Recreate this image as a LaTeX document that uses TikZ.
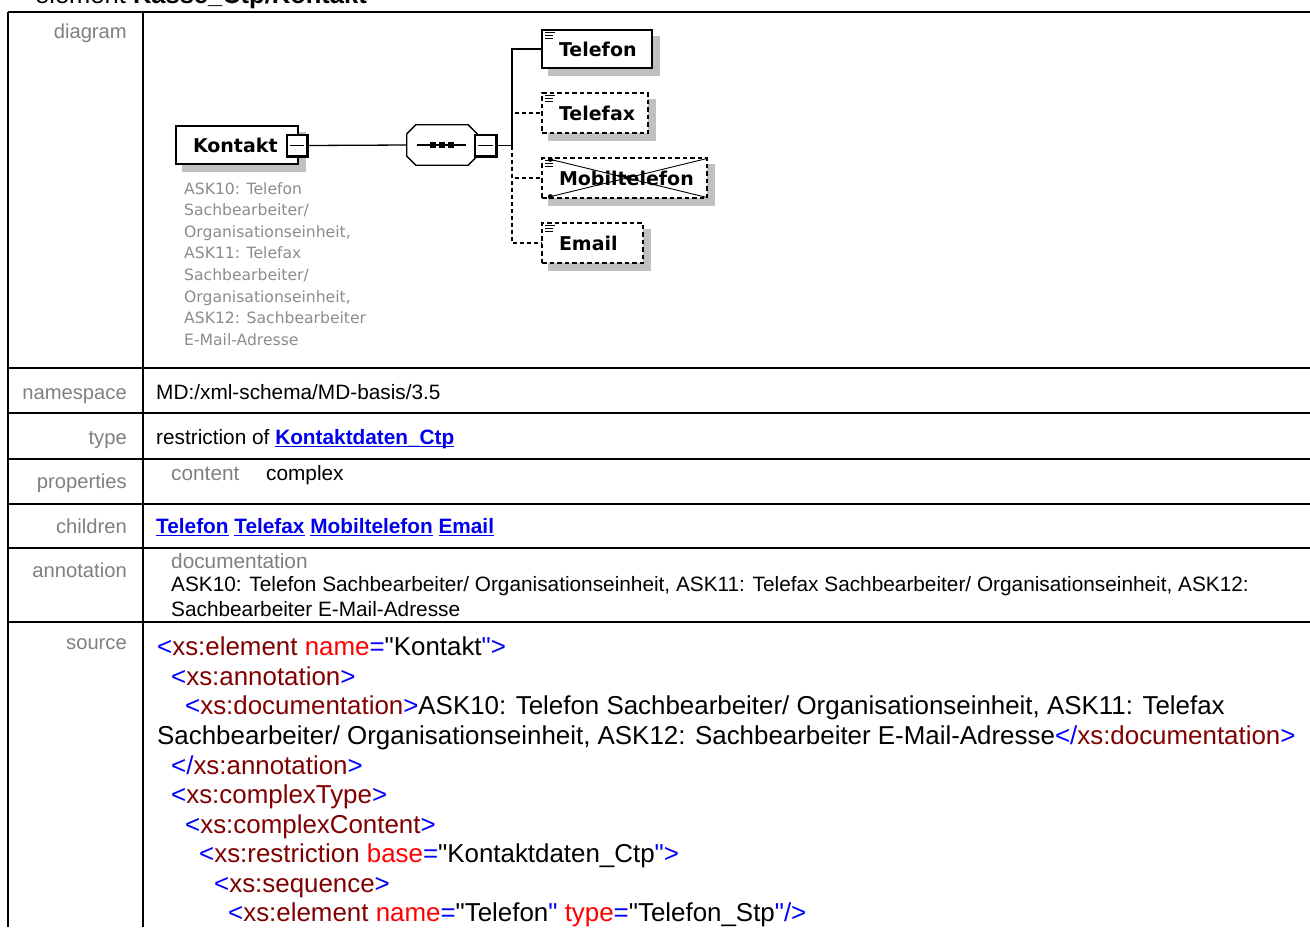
\documentclass[tikz,border=0pt]{standalone}
\usepackage{fontspec}
\setmainfont{Liberation Sans}
\newfontfamily\dejavu{DejaVu Sans}
\usetikzlibrary{backgrounds,calc}
\definecolor{xblue}{RGB}{0,0,255}
\definecolor{xmaroon}{RGB}{128,0,0}
\definecolor{xred}{RGB}{255,0,0}
\definecolor{lblgray}{RGB}{128,128,128}
\definecolor{anngray}{RGB}{140,140,140}
\definecolor{shadowgray}{RGB}{192,192,192}
\definecolor{linkblue}{RGB}{0,0,238}
\newcommand\Bl[1]{\textcolor{xblue}{#1}}
\newcommand\Mr[1]{\textcolor{xmaroon}{#1}}
\newcommand\Rd[1]{\textcolor{xred}{#1}}
\newcommand\Q{\textquotedbl}
\newcommand\ulink[1]{\setbox0=\hbox{#1}\rlap{\rule[-3pt]{\wd0}{1.4pt}}\box0\relax}
\newcommand\lbox[2]{\hbox to #1pt{\hskip17pt #2\hss}}
\begin{document}
\begin{tikzpicture}[x=1pt,y=-1pt,
  tline/.style={line width=2pt},
  lbl/.style={anchor=base east,inner sep=0pt,text=lblgray,font=\fontsize{20.2}{24}\selectfont},
  val/.style={anchor=base west,inner sep=0pt,font=\fontsize{20.8}{24}\selectfont},
  src/.style={anchor=base west,inner sep=0pt,font=\fontsize{25.9}{30}\selectfont},
  elbox/.style={draw=black,line width=1.3pt,fill=white,inner sep=0pt,font=\dejavu\bfseries\fontsize{19}{22}\selectfont},
  optbox/.style={elbox,dash pattern=on 4.5pt off 3pt},
  minusbox/.style={draw=black,line width=1.2pt,fill=white,minimum width=20pt,minimum height=21pt,inner sep=0pt},
  conn/.style={line width=1.3pt},
  dconn/.style={line width=1.3pt,dash pattern=on 4pt off 3pt},
  icon/.style={line width=1pt}
]
\useasboundingbox (0,0) rectangle (1310,927);

% title (cut off at top, as in the reference)
\node[anchor=base west,inner sep=0pt,font=\fontsize{25.5}{30}\selectfont] (title) at (35,3) {element \textbf{Kasse\_Ctp/Kontakt}};

% table grid
\draw[tline] (8,12) -- (1310,12);
\draw[tline] (8,12) -- (8,927);
\draw[tline] (143,12) -- (143,927);
\draw[tline] (8,368) -- (1310,368);
\draw[tline] (8,413) -- (1310,413);
\draw[line width=1.3pt] (8,459) -- (1310,459);
\draw[tline] (8,504) -- (1310,504);
\draw[tline] (8,548) -- (1310,548);
\draw[tline] (8,622) -- (1310,622);

% row labels
\node[lbl] (ldiag) at (127,38) {diagram};
\node[lbl] (lns) at (127,399) {namespace};
\node[lbl] (ltype) at (127,444) {type};
\node[lbl] (lprop) at (127,488) {properties};
\node[lbl] (lchild) at (127,533) {children};
\node[lbl] (lann) at (127,577) {annotation};
\node[lbl] (lsrc) at (127,649) {source};

% row values
\node[val] (ns) at (156,399) {MD:/xml-schema/MD-basis/3.5};
\node[val] (ty) at (156,444) {restriction of \textcolor{linkblue}{\bfseries\ulink{Kontaktdaten\_Ctp}}};
\node[val,text=lblgray] (pc) at (171,480) {content};
\node[val] (pv) at (266,480) {complex};
\node[val,text=linkblue,font=\bfseries\fontsize{20.8}{24}\selectfont] (ch) at (156,533) {\ulink{Telefon} \ulink{Telefax} \ulink{Mobiltelefon} \ulink{Email}};
\node[val,text=lblgray] (adoc) at (171,568) {documentation};
\node[val] (a1) at (171,591) {ASK10: Telefon Sachbearbeiter/ Organisationseinheit, ASK11: Telefax Sachbearbeiter/ Organisationseinheit, ASK12:};
\node[val] (a2) at (171,616) {Sachbearbeiter E-Mail-Adresse};

% source
\node[src] (s1) at (157,655) {\Bl{<}\Mr{xs:element} \Rd{name}\Bl{=}\Q Kontakt\Bl{\Q>}};
\node[src] (s2) at (171,685) {\Bl{<}\Mr{xs:annotation}\Bl{>}};
\node[src] (s3) at (185,714) {\Bl{<}\Mr{xs:documentation}\Bl{>}ASK10: Telefon Sachbearbeiter/ Organisationseinheit, ASK11: Telefax};
\node[src] (s4) at (157,744) {Sachbearbeiter/ Organisationseinheit, ASK12: Sachbearbeiter E-Mail-Adresse\Bl{</}\Mr{xs:documentation}\Bl{>}};
\node[src] (s5) at (171,774) {\Bl{</}\Mr{xs:annotation}\Bl{>}};
\node[src] (s6) at (171,803) {\Bl{<}\Mr{xs:complexType}\Bl{>}};
\node[src] (s7) at (185,833) {\Bl{<}\Mr{xs:complexContent}\Bl{>}};
\node[src] (s8) at (199,862) {\Bl{<}\Mr{xs:restriction} \Rd{base}\Bl{=}\Q Kontaktdaten\_Ctp\Bl{\Q>}};
\node[src] (s9) at (214,892) {\Bl{<}\Mr{xs:sequence}\Bl{>}};
\node[src] (s10) at (228,921) {\Bl{<}\Mr{xs:element} \Rd{name}\Bl{=}\Q Telefon\Bl{\Q} \Rd{type}\Bl{=}\Q Telefon\_Stp\Bl{\Q/>}};

% ---------- diagram ----------
\node[elbox,minimum width=122pt,minimum height=38pt] (kontakt) at (237,145) {\lbox{122}{Kontakt}};
\node[minimum width=70pt,minimum height=40pt,inner sep=0pt] (seq) at (442,145) {};
\draw[line width=1.3pt,fill=white]
  ($(seq.north west)+(9,0)$) -- ($(seq.north east)+(-9,0)$) -- ($(seq.north east)+(0,9)$) --
  ($(seq.south east)+(0,-9)$) -- ($(seq.south east)+(-9,0)$) -- ($(seq.south west)+(9,0)$) --
  ($(seq.south west)+(0,-9)$) -- ($(seq.north west)+(0,9)$) -- cycle;
\draw[line width=1.3pt] ($(seq.west)+(10,0)$) -- ($(seq.east)+(-11,0)$);
\foreach \dx in {-9,0,9} \fill ($(seq.center)+(\dx-2.8,-2.8)$) rectangle ++(5.6,5.6);
\node[minusbox] (kminus) at (297,145.5) {};
\node[minusbox,minimum width=21pt] (sminus) at (485.5,145.5) {};
\foreach \m in {kminus,sminus} {
  \draw[line width=2.4pt] (\m.north east) -- (\m.south east) -- (\m.south west);
  \draw[line width=1.2pt] ($(\m.west)+(4,0)$) -- ($(\m.east)+(-4,0)$);
}
\coordinate (bus) at (512,145.5);

\node[elbox,minimum width=110pt,minimum height=38pt] (telefon) at (597,49) {\lbox{110}{Telefon}};
\node[optbox,minimum width=106pt,minimum height=40pt] (telefax) at (595,113) {\lbox{106}{Telefax}};
\node[optbox,minimum width=165pt,minimum height=40pt] (mobil) at (624.5,178) {\lbox{165}{Mobiltelefon}};
\node[optbox,minimum width=101pt,minimum height=40pt] (email) at (592.5,243) {\lbox{101}{Email}};

% prohibited mark on Mobiltelefon
\draw[line width=0.9pt] ($(mobil.north west)+(9,2)$) -- ($(mobil.south east)+(0,-1)$);
\draw[line width=0.9pt] ($(mobil.south west)+(9,-2)$) -- ($(mobil.north east)+(0,1)$);
\fill ($(mobil.north west)+(9,2)$) circle (2.5);
\fill ($(mobil.south west)+(9,-2)$) circle (2.5);
\fill ($(mobil.center)+(4,0)$) circle (2.8);

% element icons
\foreach \n in {telefon,telefax,mobil,email} {
  \draw[icon] ($(\n.north west)+(4,3.5)$) -- ++(10,0);
  \draw[icon] ($(\n.north west)+(4,6.2)$) -- ++(8,0);
  \draw[icon] ($(\n.north west)+(4,8.9)$) -- ++(8,0);
}

% connectors
\draw[conn] (kminus.east) -- (seq.west);
\draw[conn] (sminus.east) -- (bus);
\draw[dconn] (bus) |- (telefax.west);
\draw[dconn] (bus) |- (mobil.west);
\draw[dconn] (bus) |- (email.west);
\draw[conn] (bus) |- (telefon.west);

% annotation under Kontakt
\node[anchor=north west,inner sep=0pt,align=left,text=anngray,font=\dejavu\fontsize{15.6}{21.6}\selectfont] (ann) at (184,182)
 {ASK10: Telefon\\Sachbearbeiter/\\Organisationseinheit,\\ASK11: Telefax\\Sachbearbeiter/\\Organisationseinheit,\\ASK12: Sachbearbeiter\\E-Mail-Adresse};

% background and shadows
\begin{scope}[on background layer]
  \fill[white] (0,0) rectangle (1310,927);
  \foreach \n in {kontakt,telefon,telefax,mobil,email}
    \fill[shadowgray] ($(\n.north west)+(7,7)$) rectangle ($(\n.south east)+(7,7)$);
  \fill[shadowgray,shift={(6,6)}]
  ($(seq.north west)+(9,0)$) -- ($(seq.north east)+(-9,0)$) -- ($(seq.north east)+(0,9)$) --
  ($(seq.south east)+(0,-9)$) -- ($(seq.south east)+(-9,0)$) -- ($(seq.south west)+(9,0)$) --
  ($(seq.south west)+(0,-9)$) -- ($(seq.north west)+(0,9)$) -- cycle;
\end{scope}
\end{tikzpicture}
\end{document}
